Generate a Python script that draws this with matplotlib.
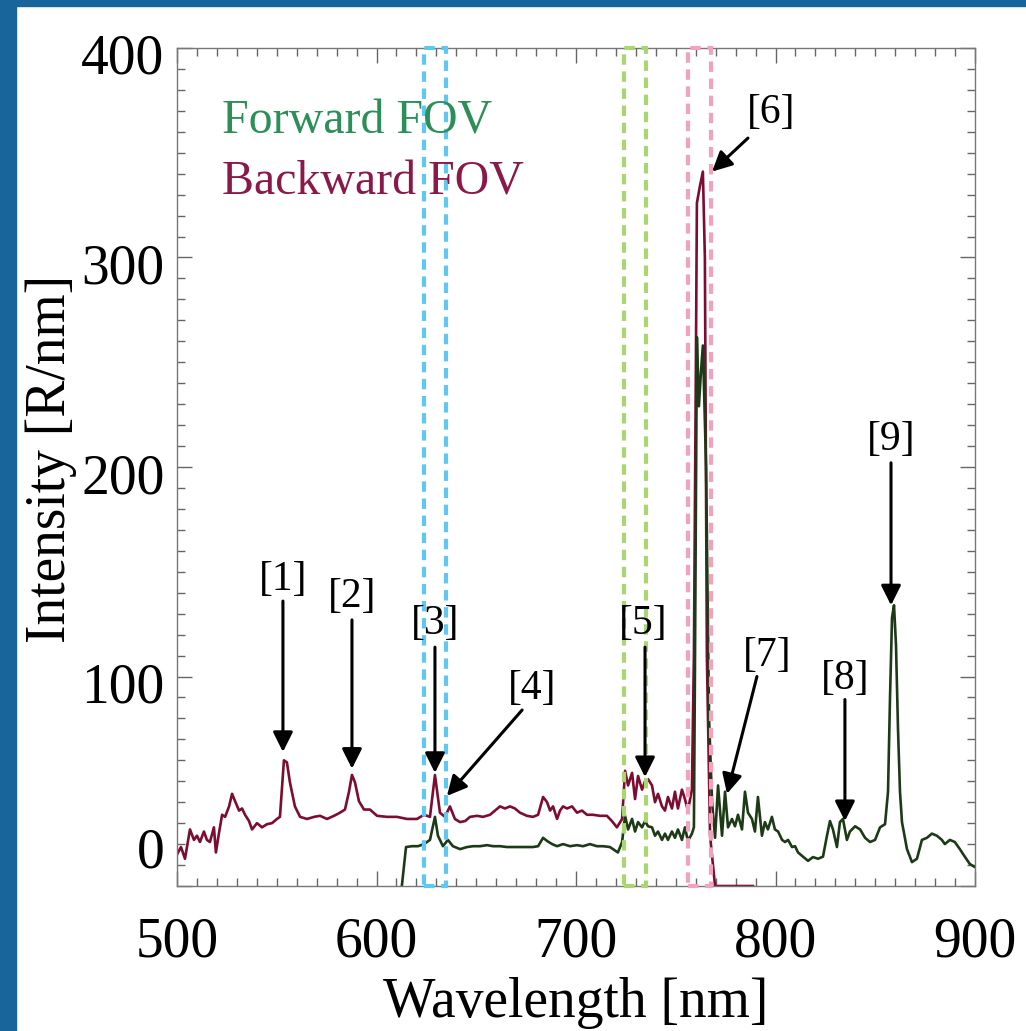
import numpy as np
import matplotlib.pyplot as plt
from matplotlib.patches import Rectangle
from matplotlib.ticker import MultipleLocator
from matplotlib.transforms import ScaledTranslation

plt.rcParams['font.family'] = ['Liberation Serif', 'DejaVu Serif']

# backward FOV spectrum (maroon)
bwd_wl = [500.0, 502.0, 504.0, 506.5, 508.5, 510.0, 511.5, 513.5, 515.0, 516.5, 518.5, 519.5, 521.0,
          522.6, 524.1, 526.1, 527.6, 529.1, 531.1, 532.6, 534.1, 536.1, 537.6, 540.1, 542.6, 545.1,
          547.6, 550.1, 551.6, 553.6, 555.1, 556.6, 559.1, 561.7, 565.2, 568.7, 571.7, 575.2, 578.7,
          581.7, 584.2, 586.2, 587.7, 589.2, 591.2, 593.7, 596.7, 600.3, 605.3, 610.3, 615.3, 620.3,
          623.8, 626.8, 629.3, 631.8, 634.3, 636.8, 639.3, 641.9, 644.4, 646.9, 650.4, 653.4, 656.9,
          659.4, 661.9, 664.4, 666.9, 669.4, 671.9, 675.4, 678.4, 681.0, 683.5, 685.5, 687.0, 688.5,
          690.5, 692.0, 693.5, 695.5, 698.0, 700.5, 703.0, 705.5, 708.5, 712.0, 715.5, 718.0, 720.5,
          723.1, 724.6, 726.1, 728.1, 729.6, 731.1, 733.1, 734.6, 736.1, 738.1, 739.6, 741.1, 743.1,
          744.6, 746.1, 748.1, 749.6, 751.1, 753.1, 754.6, 756.1, 758.1, 759.1, 760.1, 760.6, 762.1,
          763.6, 764.6, 765.6, 767.2, 769.7, 788.7]
bwd_val = [15, 18.6, 13, 27, 22, 24, 21, 26, 22, 21, 28, 16, 25,
           34, 33, 38, 44, 40.5, 36, 37, 34, 31, 27, 30, 28, 29.5,
           30, 32, 33, 60, 59, 49.5, 38, 33, 32, 33, 33.5, 32, 33.5,
           35, 36.5, 45, 53, 49.5, 40.5, 36.5, 36.5, 33.5, 33, 33, 32, 32,
           34, 33, 53, 35, 33, 38, 32, 30.5, 31, 33, 33.5, 33, 34,
           36, 38, 37, 38, 37, 35, 33.5, 33, 34, 42.5, 40, 36, 38,
           32, 36, 38, 37, 38, 35, 36, 34, 34, 33.5, 33.5, 31, 28,
           32, 55, 48, 54, 41.5, 52.5, 46, 50, 51, 48, 40, 44, 38,
           36, 42.5, 37, 45, 37, 46, 41.5, 36, 46, 110, 250, 326, 334,
           341, 300, 110, 24, 0, 0]

# forward FOV spectrum (dark green)
fwd_wl = [611.8, 614.8, 617.8, 620.8, 623.8, 626.8, 629.3, 630.8, 633.3, 635.8, 638.3, 641.9, 645.4,
          648.4, 651.9, 655.4, 658.4, 661.9, 665.4, 668.4, 671.9, 675.4, 678.4, 681.0, 683.5, 685.5,
          688.0, 690.5, 693.5, 697.0, 700.5, 703.5, 707.0, 710.5, 713.5, 717.0, 719.5, 721.0, 723.1,
          724.6, 726.1, 728.1, 729.6, 731.1, 733.1, 734.6, 736.1, 738.1, 739.6, 741.1, 743.1, 744.6,
          746.1, 748.1, 749.6, 751.1, 753.1, 754.6, 756.1, 758.1, 759.1, 759.6, 760.6, 761.6, 762.6,
          763.6, 765.2, 766.7, 768.2, 769.7, 771.2, 773.2, 774.7, 776.2, 778.2, 779.7, 781.2, 783.2,
          784.7, 786.2, 788.2, 789.7, 791.2, 793.2, 794.7, 796.2, 798.2, 799.7, 801.3, 803.3, 804.8,
          806.3, 808.3, 809.8, 811.3, 813.8, 816.3, 818.8, 821.3, 823.8, 825.8, 827.3, 828.8, 830.8,
          832.3, 833.8, 835.8, 837.3, 839.9, 842.4, 844.9, 847.4, 849.9, 852.4, 854.9, 856.4, 857.4,
          858.4, 859.4, 860.4, 861.4, 862.4, 863.4, 865.9, 868.4, 870.9, 873.4, 875.9, 878.4, 880.9,
          883.4, 884.9, 887.4, 889.9, 892.4, 894.9, 897.4, 900.0]
fwd_val = [-8, 18.6, 19, 19, 20, 22, 33, 24, 19, 22, 19, 17.6, 18.6,
           19, 19, 19.5, 19, 19, 18.6, 18.6, 18.6, 18.6, 18.6, 19, 23, 21.5,
           20, 19, 20, 19, 19.5, 19, 20, 19, 19, 18.6, 17, 16, 21,
           33.5, 27, 32, 26, 30.5, 28, 31, 28.5, 28, 24, 26, 22, 25,
           22, 26, 23, 27, 22, 28, 21.5, 25, 28, 100, 262, 229, 245,
           258, 200, 80, 40, 23, 48, 24, 45, 28, 32, 28.5, 34, 27,
           45, 35, 32, 26, 42.5, 24, 30.5, 27, 33, 27, 26, 22, 21,
           22, 18.6, 19, 16, 14, 12, 13.8, 13, 14, 24, 31, 27, 18.6,
           30.5, 32, 22, 26, 28.5, 27, 23, 21, 22, 28, 29.5, 45, 90,
           128, 134, 115, 75, 45, 30.5, 17.6, 11.4, 13, 22, 23, 25, 24,
           22, 20, 22, 21, 17.6, 14, 10.5, 9]

# dashed filter windows
box_lo = [623.8, 724.1, 756.1]
box_hi = [634.8, 735.1, 767.7]
box_col = ['#5ec8f2', '#a9d66e', '#f2a3bb']

# labelled lines: label, text position, arrow start and arrow tip
ann_lab = ['[1]', '[2]', '[3]', '[4]', '[5]', '[6]', '[7]', '[8]', '[9]']
ann_tx = [553.1, 587.7, 629.3, 678.0, 733.6, 798.0, 795.7, 834.8, 857.9]
ann_ty = [146, 138, 125, 94, 125, 369, 110, 99, 213]
arr_x0 = [553.1, 587.7, 629.3, 673.0, 734.6, 786.2, 790.7, 834.8, 857.9]
arr_y0 = [136, 127, 114, 84, 114, 357, 100, 89, 202]
arr_x1 = [553.1, 587.7, 629.3, 635.3, 734.6, 768.2, 775.7, 834.8, 857.9]
arr_y1 = [64, 56, 54, 43, 52, 341, 44, 31, 134]

fig = plt.figure(figsize=(10.26, 10.31), dpi=100)
fig.patches.append(Rectangle((0, 0), 16 / 1026, 1, transform=fig.transFigure,
                             color='#17659b', zorder=0))
fig.patches.append(Rectangle((0, 1 - 6 / 1031), 1, 6 / 1031, transform=fig.transFigure,
                             color='#17659b', zorder=0))
ax = fig.add_axes([177 / 1026, 145 / 1031, 798 / 1026, 838 / 1031])

ax.plot(bwd_wl, bwd_val, color='#7c0d30', lw=1.9, zorder=2)
ax.plot(fwd_wl, fwd_val, color='#1d3a17', lw=1.9, zorder=2)

for lo, hi, c in zip(box_lo, box_hi, box_col):
    ax.add_patch(Rectangle((lo, 0), hi - lo, 400, fill=False, edgecolor=c,
                           lw=3, ls=(0, (2.5, 1.6)), zorder=3, clip_on=False))

for lab, tx, ty, x0, y0, x1, y1 in zip(ann_lab, ann_tx, ann_ty, arr_x0, arr_y0, arr_x1, arr_y1):
    ax.text(tx, ty, lab, fontsize=30, ha='center', va='center')
    ax.annotate('', xy=(x1, y1), xytext=(x0, y0),
                arrowprops=dict(arrowstyle='-|>', color='black', lw=2.2,
                                mutation_scale=30, shrinkA=0, shrinkB=0))

ax.text(0.056, 0.912, 'Forward FOV', transform=ax.transAxes, fontsize=34.5,
        color='#2b8f57', va='center')
ax.text(0.056, 0.84, 'Backward FOV', transform=ax.transAxes, fontsize=34.5,
        color='#8a1848', va='center')

ax.set_xlim(500, 900)
ax.set_ylim(0, 400)
ax.set_xticks([500, 600, 700, 800, 900])
ax.set_yticks([0, 100, 200, 300, 400])
ax.xaxis.set_minor_locator(MultipleLocator(10))
ax.yaxis.set_minor_locator(MultipleLocator(10))
ax.tick_params(which='both', direction='in', top=True, right=True, color='#666666',
               labelsize=40, width=1)
ax.tick_params(which='major', length=11)
ax.tick_params(which='minor', length=5.5)
ax.tick_params(axis='x', pad=22)
ax.tick_params(axis='y', pad=9)
for s in ax.spines.values():
    s.set_color('#777777')
    s.set_linewidth(1)

# shift y tick labels as in the original (the 0 sits well above the axis)
for lab, v in zip(ax.get_yticklabels(), [0, 100, 200, 300, 400]):
    dy = 39 / 100 if v == 0 else -6 / 100
    lab.set_transform(lab.get_transform() + ScaledTranslation(0, dy, fig.dpi_scale_trans))

ax.set_xlabel('Wavelength [nm]', fontsize=40)
ax.set_ylabel('Intensity [R/nm]', fontsize=40)
ax.xaxis.set_label_coords(0.5, -0.108)
ax.yaxis.set_label_coords(-0.125, 0.51)

fig.savefig('out.png', dpi=100)
